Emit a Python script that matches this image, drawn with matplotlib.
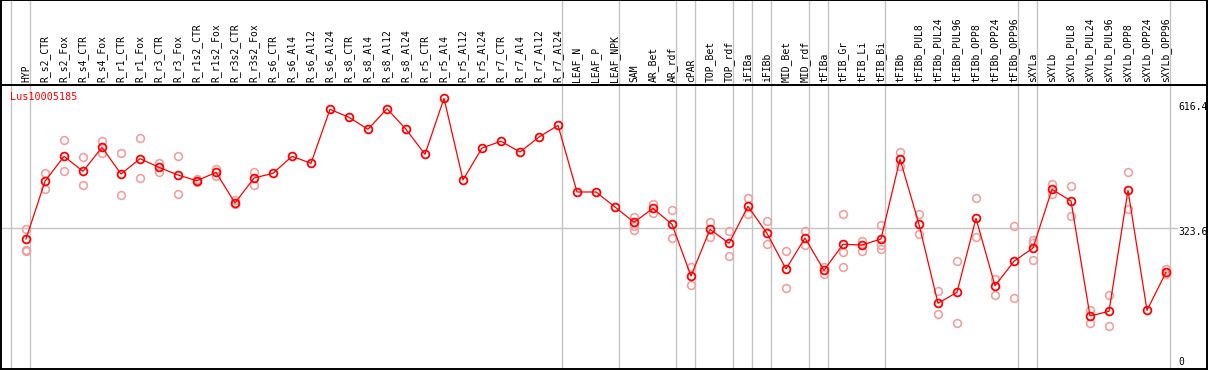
import numpy as np
import matplotlib
matplotlib.use('Agg')
import matplotlib.pyplot as plt

gene = 'Lus10005185'

labels = ['HYP', 'R_s2_CTR', 'R_s2_Fox', 'R_s4_CTR', 'R_s4_Fox', 'R_r1_CTR', 'R_r1_Fox',
          'R_r3_CTR', 'R_r3_Fox', 'R_r1s2_CTR', 'R_r1s2_Fox', 'R_r3s2_CTR', 'R_r3s2_Fox',
          'R_s6_CTR', 'R_s6_Al4', 'R_s6_Al12', 'R_s6_Al24', 'R_s8_CTR', 'R_s8_Al4',
          'R_s8_Al12', 'R_s8_Al24', 'R_r5_CTR', 'R_r5_Al4', 'R_r5_Al12', 'R_r5_Al24',
          'R_r7_CTR', 'R_r7_Al4', 'R_r7_Al12', 'R_r7_Al24', 'LEAF_N', 'LEAF_P', 'LEAF_NPK',
          'SAM', 'AR_Bet', 'AR_rdf', 'cPAR', 'TOP_Bet', 'TOP_rdf', 'iFIBa', 'iFIBb',
          'MID_Bet', 'MID_rdf', 'tFIBa', 'tFIB_Gr', 'tFIB_Li', 'tFIB_Bi', 'tFIBb',
          'tFIBb_PUL8', 'tFIBb_PUL24', 'tFIBb_PUL96', 'tFIBb_OPP8', 'tFIBb_OPP24',
          'tFIBb_OPP96', 'sXYLa', 'sXYLb', 'sXYLb_PUL8', 'sXYLb_PUL24', 'sXYLb_PUL96',
          'sXYLb_OPP8', 'sXYLb_OPP24', 'sXYLb_OPP96']

# number of samples in each tissue group (grey separators)
group_sizes = [1, 28, 3, 3, 1, 2, 1, 1, 2, 1, 3, 7, 1, 7]

# mean expression per sample
means = [299.5, 429.5, 485.8, 452.0, 506.0, 445.9, 480.4, 461.0, 443.6, 430.8,
         449.7, 380.6, 436.9, 447.5, 485.8, 470.0, 591.6, 573.6, 546.6, 593.0,
         546.6, 490.3, 616.4, 432.4, 504.5, 519.6, 495.5, 529.2, 555.6, 405.4,
         405.4, 371.6, 337.1, 368.6, 332.6, 216.2, 321.3, 289.8, 373.2, 312.3,
         231.9, 301.8, 229.0, 287.6, 286.0, 299.5, 479.7, 332.6, 154.7, 179.5,
         346.1, 194.3, 249.3, 279.2, 411.4, 385.1, 126.1, 136.7, 409.2, 138.9,
         224.5]

# individual replicates
reps = [[322.0, 275.4, 272.5], [447.5, 411.4], [521.8, 452.0], [483.5, 421.1],
        [520.2, 493.9], [492.5, 397.9], [526.3, 436.2], [470.7, 450.4],
        [486.4, 400.9], [434.0, 428.6], [457.2, 441.4], [386.7, 377.7],
        [451.1, 421.8], [], [], [], [], [], [], [], [], [], [], [], [], [], [],
        [], [], [], [], [], [349.1, 328.8, 319.8], [379.0, 358.1], [364.1, 301.1],
        [236.4, 195.2], [337.8, 304.7], [316.8, 260.5], [391.2, 356.5],
        [339.4, 287.6], [271.8, 188.5], [317.5, 286.0], [236.4, 220.7],
        [355.8, 271.3, 236.4], [294.3, 271.8], [331.0, 286.0, 277.7],
        [494.8, 463.9], [355.8, 310.1], [181.7, 130.6], [249.9, 110.3],
        [391.2, 303.3], [209.4, 174.0], [329.5, 165.9], [297.2, 289.4, 251.5],
        [422.7, 400.2], [418.9, 350.6], [139.6, 109.6], [172.7, 102.9],
        [451.1, 367.7], [], [232.6, 220.7]]

y_max = 616.4
y_ref = 323.6

W, H = 1209, 370
fig = plt.figure(figsize=(W / 100, H / 100), dpi=100)
ax = fig.add_axes([1 / W, 1 / H, 1206 / W, 284 / H])
axl = fig.add_axes([1 / W, 285 / H, 1206 / W, 85 / H], sharex=ax)

x = np.arange(len(labels))
xlim = ((1 - 26) / 19, (1207 - 26) / 19)
ax.set_xlim(*xlim)
ax.set_ylim(6.7, 646.4)
axl.set_ylim(0, 1)

grey = '#c4c4c4'
bounds = np.cumsum([0] + group_sizes) - 1 + 0.21
for b in bounds:
    ax.axvline(b, color=grey, lw=1, zorder=0)
    axl.axvline(b, color=grey, lw=1, zorder=0)
ax.axhline(y_ref, xmax=0.975, color=grey, lw=1, zorder=0)

# replicates
for i, r in enumerate(reps):
    if r:
        ax.plot([i] * len(r), r, 'o', mfc='none', mec='#f0a0a0', ms=5.6, mew=1.2,
                zorder=2, clip_on=False)

ax.plot(x, means, '-', color='#ff0000', lw=0.9, zorder=3)
ax.plot(x, means, 'o', mfc='none', mec='#ff0000', ms=5.6, mew=1.3, zorder=4)

mono = 'DejaVu Sans Mono'
for i, lab in enumerate(labels):
    axl.text(i, 0.03, lab, rotation=90, ha='center', va='bottom',
             fontsize=7, family=mono, color='black')

ax.text(9 / 1206, (369 - 97) / 284, gene, transform=ax.transAxes, color='#ff0000',
        fontsize=7.3, family=mono, va='center', ha='left')
ax.text(1177 / 1206, (369 - 107) / 284, f'{y_max}', transform=ax.transAxes,
        fontsize=7, family=mono, va='center', ha='left')
ax.text(1177 / 1206, (369 - 231.7) / 284, f'{y_ref}', transform=ax.transAxes,
        fontsize=7, family=mono, va='center', ha='left')
ax.text(1177 / 1206, (369 - 362) / 284, '0', transform=ax.transAxes,
        fontsize=7, family=mono, va='center', ha='left')

for a in (ax, axl):
    a.set_xticks([])
    a.set_yticks([])
    for s in a.spines.values():
        s.set_linewidth(1.4)
        s.set_color('black')

fig.savefig('out.png', dpi=100)
